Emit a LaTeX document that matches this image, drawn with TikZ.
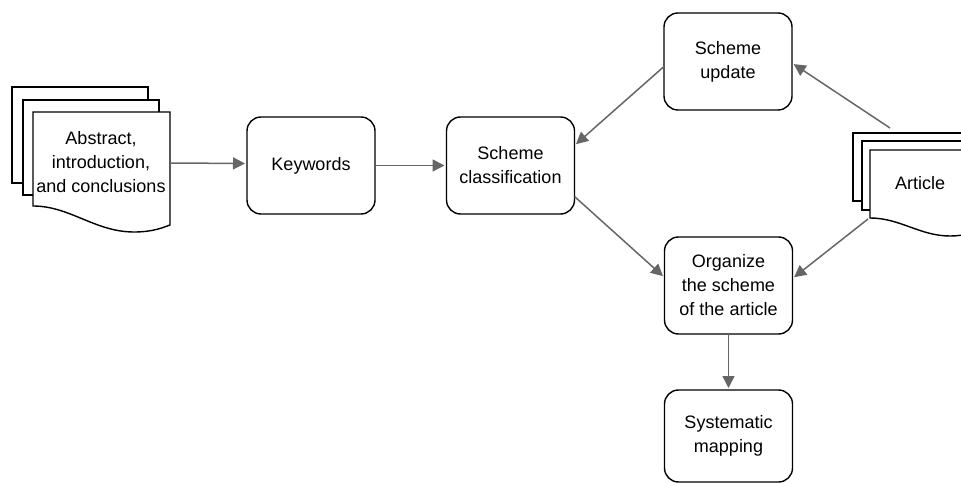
\documentclass[tikz,border=0pt]{standalone}
\usepackage{fontspec}
\setmainfont{Liberation Sans}
\usetikzlibrary{arrows.meta}
\definecolor{arrowgray}{HTML}{666666}
\begin{document}
\begin{tikzpicture}[x=1pt,y=-1pt,
  box/.style={draw=black, line width=1.4pt, rounded corners=14pt, fill=white,
    minimum width=128pt, minimum height=97pt, inner sep=0pt, outer sep=0pt,
    align=center, font=\fontsize{18}{24}\selectfont},
  sheet/.style={draw=black, line width=1.4pt, fill=white, line join=miter},
  doclabel/.style={align=center, inner sep=0pt, font=\fontsize{18}{24}\selectfont},
  link/.style={draw=arrowgray, line width=1.5pt, shorten >=2pt,
    -{Triangle[length=12pt,width=12pt]}}]
\useasboundingbox (0,0) rectangle (961,484);

% left multi-document
\draw[sheet] (12,87) rectangle (148,183);
\draw[sheet] (23,100) rectangle (159,195);
\draw[sheet] (33,112) -- (170,112) -- (170,225)
  .. controls (162,228) and (152,232) .. (134,232)
  .. controls (95,232) and (70,206) .. (33,206) -- cycle;
\node[doclabel] (abs) at (101,162) {Abstract,\\introduction,\\and conclusions};
\coordinate (absout) at (170,163);

% right multi-document (Article)
\draw[sheet] (853,133) rectangle (965,201);
\draw[sheet] (862,141) rectangle (973,210);
\draw[sheet] (870,150) -- (982,150) -- (982,229)
  .. controls (975,232) and (965,236) .. (950,236)
  .. controls (920,236) and (900,218) .. (870,218) -- cycle;
\node[doclabel] (art) at (920,183) {Article};
\coordinate (arttop) at (890,128);
\coordinate (artbl) at (868,219);

% boxes
\node[box] (kw)  at (311,165.5) {Keywords};
\node[box] (sc)  at (510.5,165.5) {Scheme\\classification};
\node[box] (su)  at (728,61.5) {Scheme\\update};
\node[box] (org) at (728.5,285.5) {Organize\\the scheme\\of the article};
\node[box, minimum height=92pt] (sm) at (728.5,436) {Systematic\\mapping};

% connectors
\draw[link] (absout) -- ([yshift=2pt]kw.west);
\draw[link] (kw.east) -- (sc.west);
\draw[link] ([yshift=-5pt]su.west) -- ([yshift=20pt]sc.east);
\draw[link] (arttop) -- ([yshift=-1.5pt]su.east);
\draw[link] ([yshift=-31pt]sc.east) -- ([yshift=8pt]org.west);
\draw[link] (artbl) -- ([yshift=7pt]org.east);
\draw[link] (org.south) -- (sm.north);
\end{tikzpicture}
\end{document}
